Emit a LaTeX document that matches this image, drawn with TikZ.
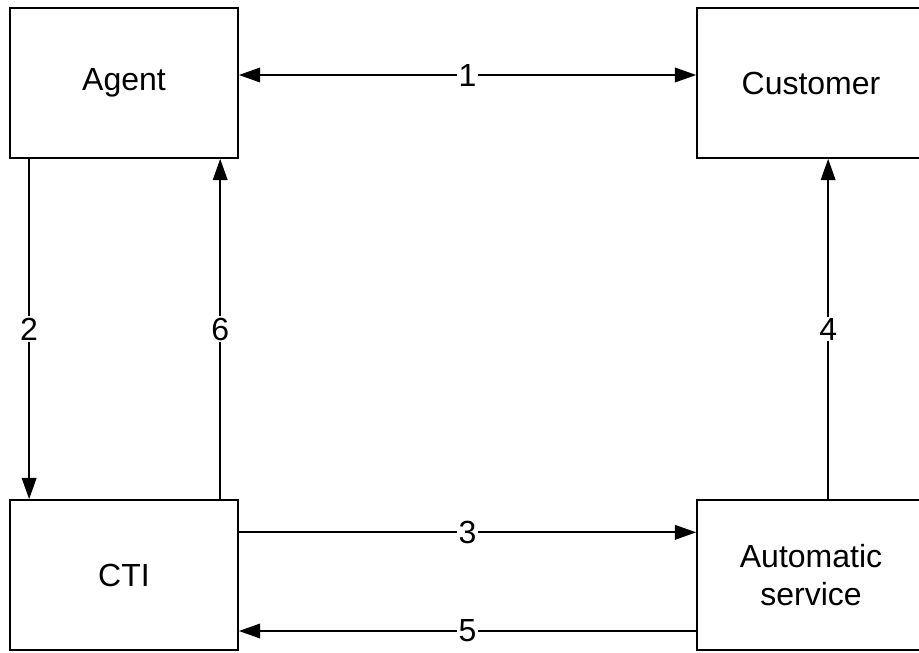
\documentclass[tikz,border=0pt]{standalone}
\usepackage{fontspec}
\setmainfont{Liberation Sans}
\usetikzlibrary{positioning,arrows.meta}
\tikzset{
  blok/.style={draw,line width=1.3pt,minimum width=171pt,minimum height=112.5pt,inner sep=2pt,align=center,font=\fontsize{24}{28}\selectfont},
  sip/.style={-{Triangle[length=16pt,width=11pt]},line width=1.3pt},
  dsip/.style={{Triangle[length=16pt,width=11pt]}-{Triangle[length=16pt,width=11pt]},line width=1.3pt},
  cislo/.style={fill=white,inner sep=1pt,font=\fontsize{24}{28}\selectfont},
}
\begin{document}
\begin{tikzpicture}[x=0.75pt,y=-0.75pt]
  \useasboundingbox (0,0) rectangle (919,652);
  \clip (0,0) rectangle (919,652);
  \node[blok] (agent) at (124,83) {Agent};
  \node[blok] (zakaznik) at (811,83) {Customer};
  \node[blok] (cti) at (124,575) {CTI};
  \node[blok] (auto) at (811,575) {Automatic\\service};
  \draw[dsip] ([yshift=6pt]agent.east) -- node[cislo] {1} ([yshift=6pt]zakaznik.west);
  \draw[sip] ([xshift=15pt]agent.south west) -- node[cislo] {2} ([xshift=15pt]cti.north west);
  \draw[sip] ([xshift=-14pt]cti.north east) -- node[cislo] {6} ([xshift=-14pt]agent.south east);
  \draw[sip] ([xshift=99pt]auto.north west) -- node[cislo] {4} ([xshift=99pt]zakaznik.south west);
  \draw[sip] ([yshift=32pt]cti.east) -- node[cislo] {3} ([yshift=32pt]auto.west);
  \draw[sip] ([yshift=-42pt]auto.west) -- node[cislo] {5} ([yshift=-42pt]cti.east);
\end{tikzpicture}
\end{document}
